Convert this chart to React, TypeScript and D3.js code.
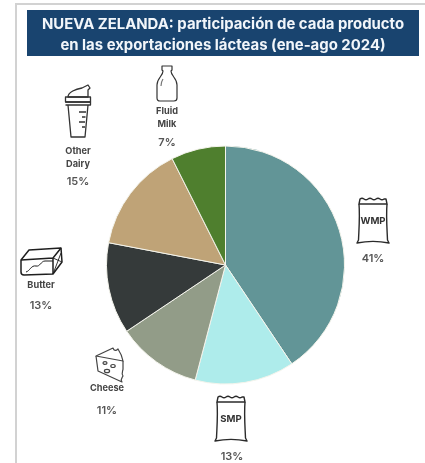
import React from "react";
import * as d3 from "d3";

const categories = ["WMP", "SMP", "Cheese", "Butter", "Other Dairy", "Fluid Milk"];
const sliceShares = [40.6, 13.5, 11.5, 12.4, 14.6, 7.4];
const sliceColors = ["#629597", "#aeeceb", "#929c88", "#353a3a", "#bfa377", "#4f7f2e"];
const titleLines = ["NUEVA ZELANDA: participación de cada producto", "en las exportaciones lácteas (ene-ago 2024)"];
const FONT = "Inter, 'Open Sans', sans-serif";

const cx = 225.5;
const cy = 265;
const radius = 119;

const Sack = ({ x, y, label }: { x: number; y: number; label: string }) => (
  <g transform={`translate(${x},${y})`} fill="none" stroke="#2b2b2b" strokeWidth={1.4} strokeLinejoin="round">
    <path d="M3,1 q2,-1.5 4,0 t4,0 t4,0 t4,0 t4,0 t4,0 l2,0 L30,6 L2,6 Z" />
    <path d="M2,6 C3,18 2,30 1.5,42 L0,45 C10,43 22,43 32,45 L30.5,42 C30,30 29,18 30,6" />
    <text x={16} y={26} textAnchor="middle" fontFamily={FONT} fontWeight={700} fontSize={9.6} fill="#333" stroke="none">{label}</text>
  </g>
);

const Bottle = () => (
  <g transform="translate(157,65)" fill="none" stroke="#333" strokeWidth={1.2} strokeLinejoin="round">
    <path d="M5,1 h10 v4 l-1,1 c0,5 6,7 6,14 v13 q0,3 -3,3 h-14 q-3,0 -3,-3 v-13 c0,-7 6,-9 6,-14 l-1,-1 Z" />
    <path d="M6,14 q-2,3 -2,7" stroke="#777" />
  </g>
);

const Shaker = () => (
  <g transform="translate(65,84)" fill="none" stroke="#333" strokeWidth={1.3} strokeLinejoin="round">
    <path d="M3,13 c0,-5 8,-8 14,-9 l6,-3 l2,3 l-2,2 l0,7 Z" />
    <path d="M0.5,13 h25 v5 h-25 Z" />
    <path d="M0.5,18 h25 v3 h-25" />
    <path d="M3,21 L6,53 h14 L23,21" />
    <path d="M14,28 h7 M17,33 h3.5 M14,38 h6 M17,43 h3" />
  </g>
);

const ButterIcon = () => (
  <g transform="translate(21,248)" fill="none" stroke="#1f1f1f" strokeWidth={1.5} strokeLinejoin="round">
    <path d="M0,12 L8,2 L40,0 L41,14 L32,26 L3,27 Q0,27 0,24 Z" />
    <path d="M0,12 L32,10 L40,0 M32,10 L32,26" />
    <path d="M32,10 L41,14 M32,26 L40,5" strokeWidth={0.9} />
    <path d="M5,24 c4,-1 5,-7 10,-6 c4,1 5,-5 9,-5 l8,0" strokeWidth={1} />
  </g>
);

const CheeseIcon = () => (
  <g transform="translate(95,347)" fill="none" stroke="#444" strokeWidth={1.2} strokeLinejoin="round">
    <path d="M1,9 L18,1 c1,3 3,3 5,1 c2,3 4,7 5,12 L1,9 Z" />
    <path d="M1,9 L3,24 L27,35 c-2,-3 0,-4 1,-6 c-2,-3 0,-5 0,-7 L28,14" />
    <ellipse cx={10} cy={16} rx={2} ry={1.4} />
    <ellipse cx={18} cy={19} rx={2.2} ry={1.5} />
    <ellipse cx={12} cy={24} rx={2.6} ry={1.7} />
  </g>
);

const Label = ({ x, lines, pct }: { x: number; lines: [string, number][]; pct: [string, number] }) => (
  <g textAnchor="middle" fontFamily={FONT}>
    {lines.map(([t, y]) => (
      <text key={t} x={x} y={y} fontSize={9.2} fontWeight={700} fill="#444">{t}</text>
    ))}
    <text x={x} y={pct[1]} fontSize={11} fontWeight={600} fill="#555">{pct[0]}</text>
  </g>
);

export default function App() {
  const pie = d3.pie<number>().sort(null).value((d) => d);
  const arc = d3.arc<d3.PieArcDatum<number>>().innerRadius(0).outerRadius(radius);
  const arcs = pie(sliceShares);

  return (
    <svg
      width={425}
      height={463}
      viewBox="0 0 425 463"
      style={{ position: "fixed", left: 0, top: 0, background: "#fff", filter: "blur(0.35px)" }}
    >
      <rect x={15} y={3} width={410} height={2} fill="#d2d2d2" />
      <rect x={15} y={3} width={2} height={460} fill="#d2d2d2" />
      <rect x={27} y={10} width={392} height={46} fill="#19446f" />
      {titleLines.map((t, i) => (
        <text
          key={t}
          x={223}
          y={29 + i * 20.5}
          textAnchor="middle"
          fontFamily={FONT}
          fontWeight={700}
          fontSize={14.9}
          fill="#f2f6fa"
        >
          {t}
        </text>
      ))}
      <g transform={`translate(${cx},${cy})`}>
        {arcs.map((a, i) => (
          <path key={categories[i]} d={arc(a) ?? ""} fill={sliceColors[i]} stroke="#f4f4ec" strokeWidth={1} />
        ))}
      </g>

      <Bottle />
      <Label x={167} lines={[["Fluid", 114], ["Milk", 127]]} pct={["7%", 146]} />
      <Shaker />
      <Label x={78} lines={[["Other", 154], ["Dairy", 167]]} pct={["15%", 185]} />
      <Sack x={357} y={198} label="WMP" />
      <Label x={373} lines={[]} pct={["41%", 262]} />
      <Sack x={215} y={396} label="SMP" />
      <Label x={232} lines={[]} pct={["13%", 460]} />
      <ButterIcon />
      <Label x={41} lines={[["Butter", 288]]} pct={["13%", 309]} />
      <CheeseIcon />
      <Label x={107} lines={[["Cheese", 391]]} pct={["11%", 414]} />
    </svg>
  );
}
